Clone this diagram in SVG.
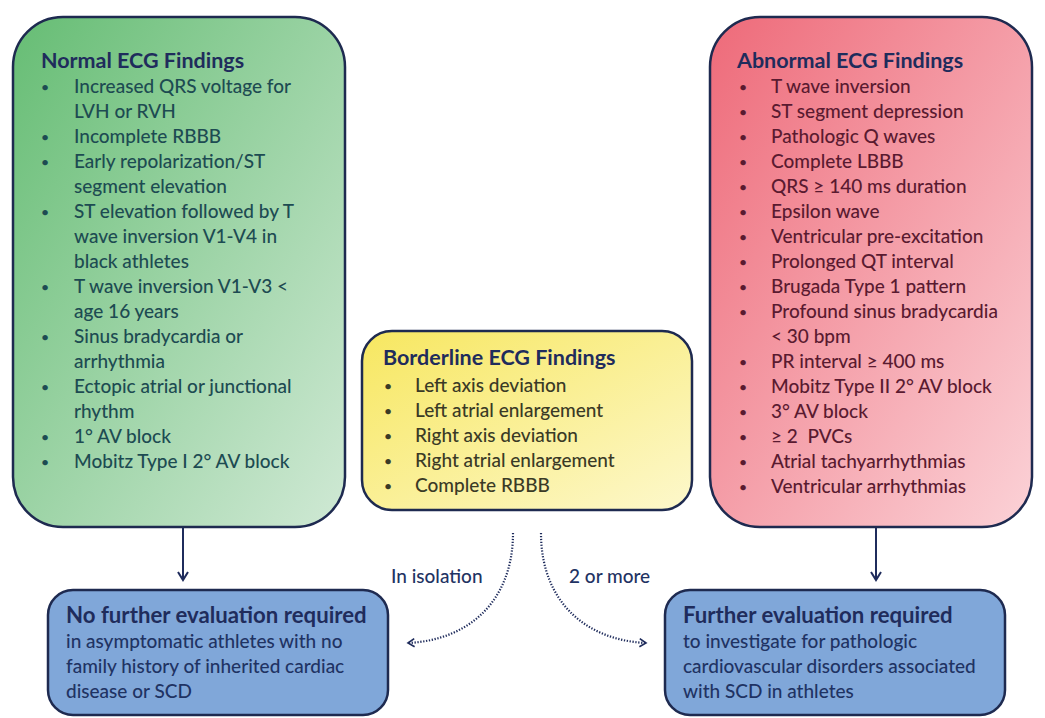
<svg xmlns="http://www.w3.org/2000/svg" width="1045" height="718" viewBox="0 0 1045 718">
<defs>
<linearGradient id="gGreen" x1="0" y1="0" x2="1" y2="1">
<stop offset="0" stop-color="#66bd74"/><stop offset="1" stop-color="#d0e9d5"/>
</linearGradient>
<linearGradient id="gRed" x1="0" y1="0" x2="1" y2="1">
<stop offset="0" stop-color="#ee6a79"/><stop offset="1" stop-color="#fbd2d7"/>
</linearGradient>
<linearGradient id="gYellow" x1="0" y1="0" x2="1" y2="1">
<stop offset="0" stop-color="#f7e760"/><stop offset="1" stop-color="#fdf8cc"/>
</linearGradient>
<marker id="head" viewBox="0 0 12 12" refX="10" refY="6" markerWidth="12" markerHeight="12" markerUnits="userSpaceOnUse" orient="auto">
<path d="M2,1 L10,6 L2,11" fill="none" stroke="#1f2c5c" stroke-width="2"/>
</marker>
<marker id="dhead" viewBox="0 0 12 12" refX="10" refY="6" markerWidth="11" markerHeight="11" markerUnits="userSpaceOnUse" orient="auto">
<path d="M3,1.5 L10,6 L3,10.5" fill="none" stroke="#1f2c5c" stroke-width="1.8"/>
</marker>
</defs>
<style>
.box{stroke:#1e2a50;stroke-width:2.5}
.t{font-family:Lato,"Liberation Sans",sans-serif;font-size:19px;font-weight:500}
.b{font-size:14px}
.h{font-family:Lato,"Liberation Sans",sans-serif;font-size:21.5px;font-weight:bold;fill:#1f2c5c}
.hb{font-size:22.2px}
.gr{fill:#1d4b52}
.rd{fill:#5a1a30}
.yl{fill:#3a3a26}
.bl{fill:#1f3363}
.lab{font-family:Lato,"Liberation Sans",sans-serif;font-size:19px;font-weight:500;fill:#1f3363}
.solid{fill:none;stroke:#1f2c5c;stroke-width:2}
.dot{fill:none;stroke:#1f2c5c;stroke-width:2.2;stroke-dasharray:1.3 1.6}
</style>

<g id="normal">
<rect class="box" x="13" y="17" width="332" height="510" rx="50" fill="url(#gGreen)"/>
<text class="h" x="41" y="68">Normal ECG Findings</text>
<g class="t gr">
<text class="b" x="41" y="92">•</text><text x="74" y="93">Increased QRS voltage for</text>
<text x="74" y="118">LVH or RVH</text>
<text class="b" x="41" y="142">•</text><text x="74" y="143">Incomplete RBBB</text>
<text class="b" x="41" y="167">•</text><text x="74" y="168">Early repolarization/ST</text>
<text x="74" y="193">segment elevation</text>
<text class="b" x="41" y="217">•</text><text x="74" y="218">ST elevation followed by T</text>
<text x="74" y="243">wave inversion V1-V4 in</text>
<text x="74" y="268">black athletes</text>
<text class="b" x="41" y="292">•</text><text x="74" y="293">T wave inversion V1-V3 &lt;</text>
<text x="74" y="318">age 16 years</text>
<text class="b" x="41" y="342">•</text><text x="74" y="343">Sinus bradycardia or</text>
<text x="74" y="368">arrhythmia</text>
<text class="b" x="41" y="392">•</text><text x="74" y="393">Ectopic atrial or junctional</text>
<text x="74" y="418">rhythm</text>
<text class="b" x="41" y="442">•</text><text x="74" y="443">1° AV block</text>
<text class="b" x="41" y="467">•</text><text x="74" y="468">Mobitz Type I 2° AV block</text>
</g>
</g>

<g id="borderline">
<rect class="box" x="362" y="331" width="330" height="179" rx="30" fill="url(#gYellow)"/>
<text class="h" x="383" y="365">Borderline ECG Findings</text>
<g class="t yl">
<text class="b" x="384" y="391">•</text><text x="415" y="392">Left axis deviation</text>
<text class="b" x="384" y="416">•</text><text x="415" y="417">Left atrial enlargement</text>
<text class="b" x="384" y="441">•</text><text x="415" y="442">Right axis deviation</text>
<text class="b" x="384" y="466">•</text><text x="415" y="467">Right atrial enlargement</text>
<text class="b" x="384" y="491">•</text><text x="415" y="492">Complete RBBB</text>
</g>
</g>

<g id="abnormal">
<rect class="box" x="710" y="17" width="322" height="510" rx="50" fill="url(#gRed)"/>
<text class="h" x="737" y="68">Abnormal ECG Findings</text>
<g class="t rd">
<text class="b" x="739" y="92">•</text><text x="771" y="93">T wave inversion</text>
<text class="b" x="739" y="117">•</text><text x="771" y="118">ST segment depression</text>
<text class="b" x="739" y="142">•</text><text x="771" y="143">Pathologic Q waves</text>
<text class="b" x="739" y="167">•</text><text x="771" y="168">Complete LBBB</text>
<text class="b" x="739" y="192">•</text><text x="771" y="193">QRS ≥ 140 ms duration</text>
<text class="b" x="739" y="217">•</text><text x="771" y="218">Epsilon wave</text>
<text class="b" x="739" y="242">•</text><text x="771" y="243">Ventricular pre-excitation</text>
<text class="b" x="739" y="267">•</text><text x="771" y="268">Prolonged QT interval</text>
<text class="b" x="739" y="292">•</text><text x="771" y="293">Brugada Type 1 pattern</text>
<text class="b" x="739" y="317">•</text><text x="771" y="318">Profound sinus bradycardia</text>
<text x="771" y="343">&lt; 30 bpm</text>
<text class="b" x="739" y="367">•</text><text x="771" y="368">PR interval ≥ 400 ms</text>
<text class="b" x="739" y="392">•</text><text x="771" y="393">Mobitz Type II 2° AV block</text>
<text class="b" x="739" y="417">•</text><text x="771" y="418">3° AV block</text>
<text class="b" x="739" y="442">•</text><text x="771" y="443">≥ 2&#160; PVCs</text>
<text class="b" x="739" y="467">•</text><text x="771" y="468">Atrial tachyarrhythmias</text>
<text class="b" x="739" y="492">•</text><text x="771" y="493">Ventricular arrhythmias</text>
</g>
</g>

<g id="no-further">
<rect class="box" x="48" y="590" width="340" height="125" rx="25" fill="#80a7d9"/>
<text class="h hb" x="66" y="623">No further evaluation required</text>
<g class="t bl">
<text x="66" y="648">in asymptomatic athletes with no</text>
<text x="66" y="673">family history of inherited cardiac</text>
<text x="66" y="698">disease or SCD</text>
</g>
</g>

<g id="further">
<rect class="box" x="665" y="590" width="340" height="125" rx="25" fill="#80a7d9"/>
<text class="h hb" x="683" y="623">Further evaluation required</text>
<g class="t bl">
<text x="683" y="648">to investigate for pathologic</text>
<text x="683" y="673">cardiovascular disorders associated</text>
<text x="683" y="698">with SCD in athletes</text>
</g>
</g>

<g id="connectors">
<line class="solid" x1="183" y1="528" x2="183" y2="580" marker-end="url(#head)"/>
<line class="solid" x1="876" y1="528" x2="876" y2="580" marker-end="url(#head)"/>
<path class="dot" d="M513,533 C513,600 470,640 408,643" marker-end="url(#dhead)"/>
<path class="dot" d="M541,533 C541,600 584,640 646,643" marker-end="url(#dhead)"/>
<text class="lab" x="391" y="583">In isolation</text>
<text class="lab" x="569" y="583">2 or more</text>
</g>
</svg>
